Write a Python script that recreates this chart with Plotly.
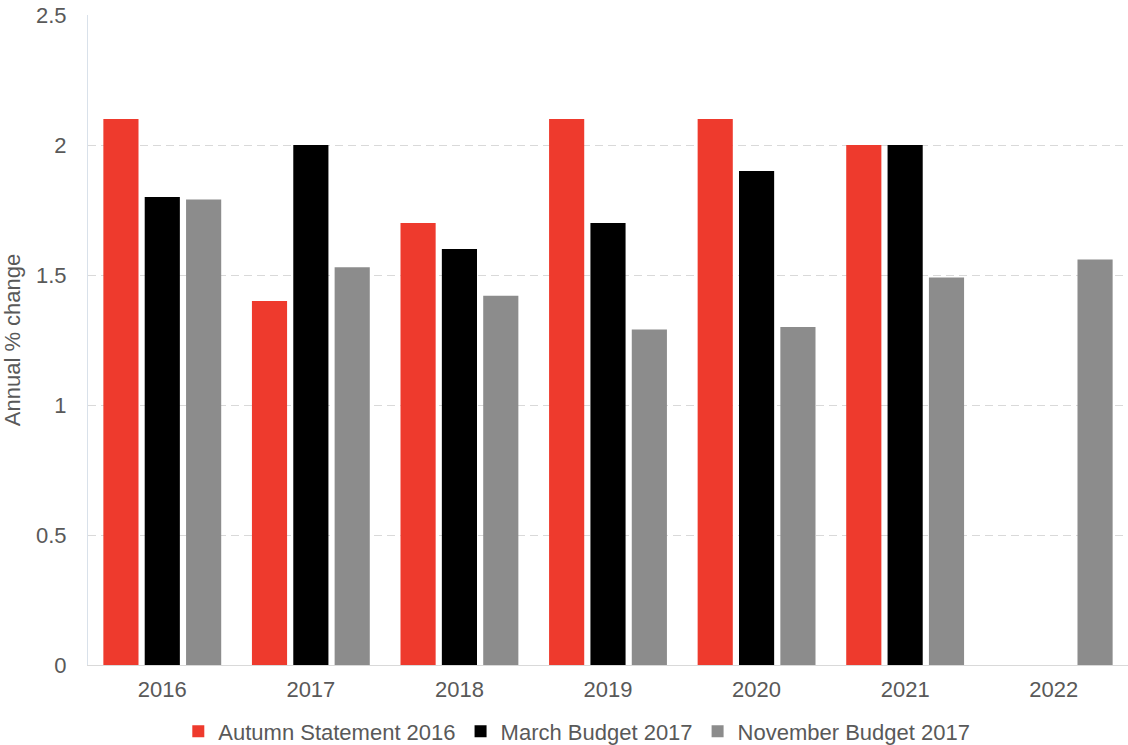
import plotly.graph_objects as go

years = ["2016", "2017", "2018", "2019", "2020", "2021", "2022"]
autumn_2016 = [2.1, 1.4, 1.7, 2.1, 2.1, 2.0, None]
march_2017 = [1.8, 2.0, 1.6, 1.7, 1.9, 2.0, None]
november_2017 = [1.79, 1.53, 1.42, 1.29, 1.30, 1.49, 1.56]

series_names = ["Autumn Statement 2016", "March Budget 2017", "November Budget 2017"]
colors = ["#EE3A2D", "#000000", "#8C8C8C"]

fig = go.Figure()
for name, vals, col in zip(series_names, [autumn_2016, march_2017, november_2017], colors):
    fig.add_trace(go.Bar(x=years, y=vals, name=name, marker=dict(color=col, line=dict(width=0))))

font_fam = "Liberation Sans, Arial, sans-serif"
fs = 22
fig.update_layout(
    width=1128, height=745,
    margin=dict(l=88, r=0, t=15, b=80, autoexpand=False),
    paper_bgcolor="white", plot_bgcolor="white",
    barmode="group", bargap=0.165, bargroupgap=0.15,
    font=dict(family=font_fam, size=fs, color="#595959"),
    showlegend=True,
    legend=dict(orientation="h", x=0.47, xanchor="center", y=-0.07, yanchor="top",
                font=dict(size=fs, color="#595959"), itemwidth=30, traceorder="normal",
                tracegroupgap=0),
    xaxis=dict(showgrid=False, showline=True, linecolor="#D9D9D9", linewidth=1,
               ticks="", ticklabelstandoff=5, tickfont=dict(size=fs, color="#595959")),
    yaxis=dict(range=[0, 2.5], tickvals=[0, 0.5, 1, 1.5, 2, 2.5],
               ticktext=["0", "0.5", "1", "1.5", "2", "2.5"],
               showgrid=True, gridcolor="#D9D9D9", griddash="8px,5px", gridwidth=1,
               showline=True, linecolor="#D9E1EA", linewidth=1, zeroline=False,
               ticks="", ticklabelstandoff=16, tickfont=dict(size=fs, color="#595959"),
               title=dict(text="Annual % change", font=dict(size=fs, color="#595959"), standoff=12)),
)
fig.write_html("out.html")
